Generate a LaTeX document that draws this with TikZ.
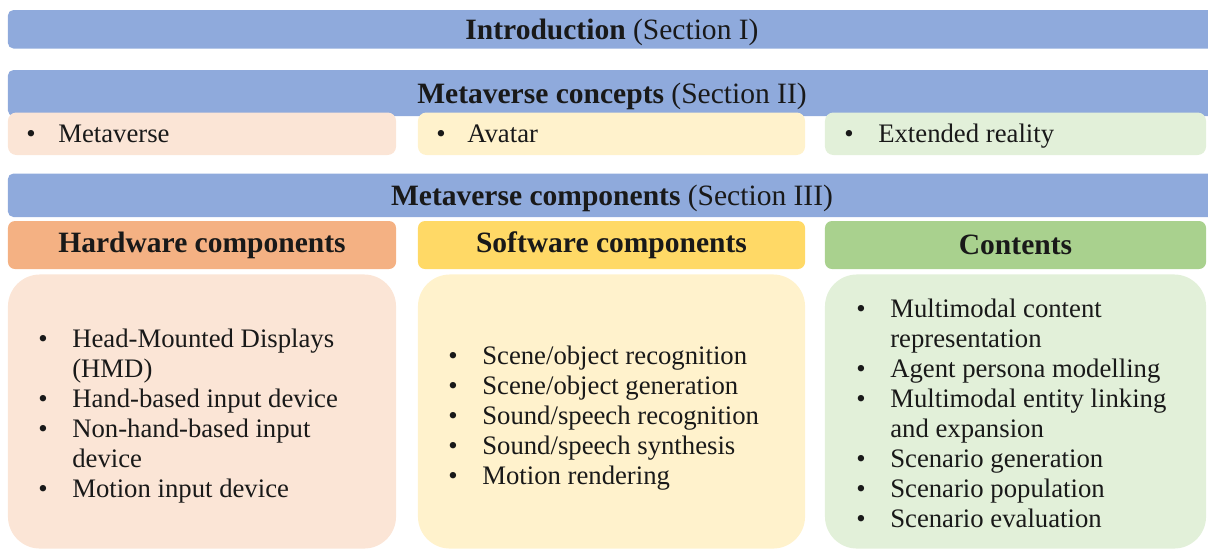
\documentclass[tikz,border=0pt]{standalone}
\usepackage{fontspec}
\setmainfont{Liberation Serif}
\definecolor{barblue}{HTML}{8FAADC}
\definecolor{hwdark}{HTML}{F4B183}
\definecolor{hwlight}{HTML}{FBE5D6}
\definecolor{swdark}{HTML}{FFD966}
\definecolor{swlight}{HTML}{FFF2CC}
\definecolor{ctdark}{HTML}{A9D18E}
\definecolor{ctlight}{HTML}{E2F0D9}
\tikzset{
  bar/.style={fill=barblue,rounded corners=4pt,minimum width=30.2cm,inner sep=0pt,text depth=0pt,text=black!90,font=\fontsize{21}{25}\selectfont},
  head/.style={rounded corners=5pt,minimum height=1.2cm,inner sep=0pt,text=black!90,font=\fontsize{21}{25}\selectfont\bfseries},
  concept/.style={rounded corners=6pt,minimum height=1.0625cm,inner sep=0pt},
  panel/.style={rounded corners=0.8cm,minimum height=6.85cm,inner sep=0pt},
  item/.style={anchor=base west,inner sep=0pt,text=black!90,font=\fontsize{19}{22}\selectfont},
  dot/.style={anchor=base,inner sep=0pt,text=black!90,font=\fontsize{19}{22}\selectfont}
}
\newcommand*{\secbar}[2]{\textbf{#1} (Section #2)}

\begin{document}
\begin{tikzpicture}[x=0.025cm,y=-0.025cm]
\useasboundingbox (0,0) rectangle (1208,549);
\node[bar,minimum height=0.9625cm] (intro) at (612,29.25) {\secbar{Introduction}{I}};
\node[bar,minimum height=1.15cm] (concepts) at (612,93) {\secbar{Metaverse concepts}{II}};
\node[bar,minimum height=1.0875cm] (components) at (612,195.25) {\secbar{Metaverse components}{III}};
\node[concept,fill=hwlight,minimum width=9.7cm] (cmeta) at (202,133.75) {};
\node[concept,fill=swlight,minimum width=9.675cm] (cavatar) at (611.5,133.75) {};
\node[concept,fill=ctlight,minimum width=9.525cm] (cxr) at (1015.5,133.75) {};
\foreach \n/\bx/\tx/\t in {meta/31/58/Metaverse, avatar/441/467/Avatar, xr/849/878/Extended reality}{
  \node[dot] (b\n) at (\bx,142.5) {\textbullet};
  \node[item] (t\n) at (\tx,142.5) {\t};
}
\node[head,fill=hwdark,minimum width=9.7cm] (hw) at (202,245) {Hardware components};
\node[head,fill=swdark,minimum width=9.675cm] (sw) at (611.5,245) {Software components};
\node[head,fill=ctdark,minimum width=9.525cm] (ct) at (1015.5,245) {Contents};
\node[panel,fill=hwlight,minimum width=9.7cm] (hwpanel) at (202,411.5) {};
\node[panel,fill=swlight,minimum width=9.675cm] (swpanel) at (611.5,411.5) {};
\node[panel,fill=ctlight,minimum width=9.525cm] (ctpanel) at (1015.5,411.5) {};
\foreach \t/\b [count=\i from 0] in {Head-Mounted Displays/1, (HMD)/0, Hand-based input device/1,
    Non-hand-based input/1, device/0, Motion input device/1}{
  \node[item] (hw\i) at (72,{347+30*\i}) {\t};
  \ifnum\b=1 \node[dot] (hwb\i) at (43,{347+30*\i}) {\textbullet}; \fi
}
\foreach \t [count=\i from 0] in {{Scene/object recognition}, {Scene/object generation},
    {Sound/speech recognition}, {Sound/speech synthesis}, Motion rendering}{
  \node[item] (sw\i) at (482,{364+30*\i}) {\t};
  \node[dot] (swb\i) at (453,{364+30*\i}) {\textbullet};
}
\foreach \t/\b [count=\i from 0] in {Multimodal content/1, representation/0, Agent persona modelling/1,
    Multimodal entity linking/1, and expansion/0, Scenario generation/1, Scenario population/1,
    Scenario evaluation/1}{
  \node[item] (ct\i) at (890,{317+30*\i}) {\t};
  \ifnum\b=1 \node[dot] (ctb\i) at (861,{317+30*\i}) {\textbullet}; \fi
}
\end{tikzpicture}
\end{document}
